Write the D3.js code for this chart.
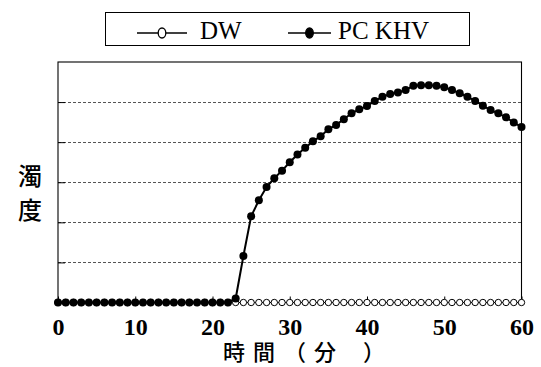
<!DOCTYPE html>
<html>
<head>
<meta charset="utf-8">
<script src="https://cdn.jsdelivr.net/npm/d3@7"></script>
<style>
  body { margin: 0; background: #fff; }
  svg { display: block; }
</style>
</head>
<body>
<div id="chart"></div>
<script>
// time in minutes, 0..60 every minute
const minutes = d3.range(0, 61);
// DW stays flat at zero
const dwValues = minutes.map(() => 0);
// PC KHV turbidity
const khvValues = [
  0, 0, 0, 0, 0, 0, 0, 0, 0, 0,
  0, 0, 0, 0, 0, 0, 0, 0, 0, 0,
  0, 0, 0, 0.1, 1.16, 2.15, 2.55, 2.88, 3.1, 3.29,
  3.5, 3.69, 3.86, 4.02, 4.15, 4.32, 4.43, 4.57, 4.72, 4.82,
  4.9, 5.03, 5.13, 5.2, 5.24, 5.3, 5.41, 5.42, 5.42, 5.41,
  5.37, 5.3, 5.22, 5.13, 5.03, 4.91, 4.8, 4.72, 4.62, 4.49,
  4.38
];
const xTicks = [0, 10, 20, 30, 40, 50, 60];
const yGrid = [1, 2, 3, 4, 5];
const seriesNames = ['DW', 'PC KHV'];
const xTitle = ['時', '間', '（', '分', '）'];
const yTitle = ['濁', '度'];

const W = 541, H = 367;
const margin = { left: 58, right: 521.5, top: 62, bottom: 302.5 };

const svg = d3.select('#chart').append('svg')
  .attr('width', W)
  .attr('height', H);

const x = d3.scaleLinear().domain([0, 60]).range([margin.left, margin.right]);
const y = d3.scaleLinear().domain([0, 6]).range([margin.bottom, margin.top]);

// dashed grid lines
svg.append('g')
  .selectAll('line')
  .data(yGrid)
  .enter().append('line')
  .attr('x1', margin.left)
  .attr('x2', margin.right)
  .attr('y1', d => Math.round(y(d)) + 0.5)
  .attr('y2', d => Math.round(y(d)) + 0.5)
  .attr('stroke', '#555')
  .attr('stroke-width', 1)
  .attr('stroke-dasharray', '3,2');

// frame
svg.append('rect')
  .attr('x', margin.left)
  .attr('y', margin.top)
  .attr('width', margin.right - margin.left)
  .attr('height', margin.bottom - margin.top)
  .attr('fill', 'none')
  .attr('stroke', '#000')
  .attr('stroke-width', 1.1);

// y ticks (inside, no labels)
const yAxis = d3.axisRight(y).tickValues(yGrid).tickSize(7).tickFormat('');
svg.append('g')
  .attr('transform', 'translate(' + margin.left + ',0)')
  .call(yAxis)
  .call(g => g.select('.domain').remove())
  .selectAll('line').attr('stroke', '#000');

// x axis: ticks upward, labels below
const xAxis = d3.axisBottom(x).tickValues(xTicks).tickSizeInner(-6).tickSizeOuter(0).tickPadding(18);
const gx = svg.append('g')
  .attr('transform', 'translate(0,' + margin.bottom + ')')
  .call(xAxis);
gx.select('.domain').remove();
gx.selectAll('line').attr('stroke', '#000');
gx.selectAll('text')
  .attr('font-family', '"Liberation Serif", "DejaVu Serif", serif')
  .attr('font-weight', 'bold')
  .attr('font-size', 24)
  .attr('fill', '#000')
  .attr('dy', '0.6em');

const line = d3.line()
  .x((d, i) => x(minutes[i]))
  .y(d => y(d));

// DW series
svg.append('path')
  .datum(dwValues)
  .attr('fill', 'none')
  .attr('stroke', '#000')
  .attr('stroke-width', 1)
  .attr('d', line);
svg.append('g')
  .selectAll('circle')
  .data(dwValues)
  .enter().append('circle')
  .attr('cx', (d, i) => x(minutes[i]))
  .attr('cy', d => y(d))
  .attr('r', 3.2)
  .attr('fill', '#fff')
  .attr('stroke', '#000')
  .attr('stroke-width', 1);

// PC KHV series
svg.append('path')
  .datum(khvValues)
  .attr('fill', 'none')
  .attr('stroke', '#000')
  .attr('stroke-width', 2)
  .attr('d', line);
svg.append('g')
  .selectAll('circle')
  .data(khvValues)
  .enter().append('circle')
  .attr('cx', (d, i) => x(minutes[i]))
  .attr('cy', d => y(d))
  .attr('r', 4)
  .attr('fill', '#000');

// axis titles
const xtPos = [234, 264, 295, 325, 374];
svg.append('g')
  .selectAll('text')
  .data(xTitle)
  .enter().append('text')
  .attr('x', (d, i) => xtPos[i])
  .attr('y', 360)
  .attr('text-anchor', 'middle')
  .attr('font-family', '"Noto Sans CJK JP", sans-serif')
  .attr('font-weight', 500)
  .attr('font-size', 22)
  .attr('fill', '#000')
  .text(d => d);

svg.append('g')
  .selectAll('text')
  .data(yTitle)
  .enter().append('text')
  .attr('x', 30)
  .attr('y', (d, i) => 185 + i * 34)
  .attr('text-anchor', 'middle')
  .attr('font-family', '"Noto Sans CJK JP", sans-serif')
  .attr('font-weight', 500)
  .attr('font-size', 24)
  .attr('fill', '#000')
  .text(d => d);

// legend
const lg = svg.append('g');
lg.append('rect')
  .attr('x', 105.5).attr('y', 12.5)
  .attr('width', 364).attr('height', 33)
  .attr('fill', '#fff')
  .attr('stroke', '#000')
  .attr('stroke-width', 1);
const legendItems = [
  { name: seriesNames[0], x0: 137, x1: 187, tx: 200, filled: false },
  { name: seriesNames[1], x0: 288, x1: 331, tx: 338, filled: true }
];
legendItems.forEach(it => {
  lg.append('line')
    .attr('x1', it.x0).attr('x2', it.x1)
    .attr('y1', 33).attr('y2', 33)
    .attr('stroke', '#000')
    .attr('stroke-width', 1.5);
  lg.append('ellipse')
    .attr('cx', (it.x0 + it.x1) / 2).attr('cy', 33)
    .attr('rx', 3.8).attr('ry', 5)
    .attr('fill', it.filled ? '#000' : '#fff')
    .attr('stroke', '#000')
    .attr('stroke-width', 1.3);
  lg.append('text')
    .attr('x', it.tx).attr('y', 39)
    .attr('font-family', '"Liberation Serif", serif')
    .attr('font-size', 25)
    .attr('fill', '#000')
    .text(it.name);
});
</script>
</body>
</html>
